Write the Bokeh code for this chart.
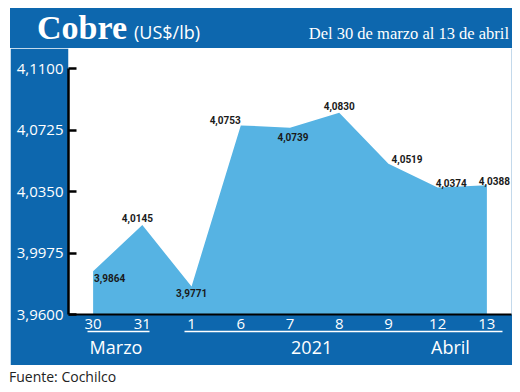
from bokeh.plotting import figure
from bokeh.layouts import column
from bokeh.models import (ColumnDataSource, Range1d, FixedTicker, LinearAxis,
                          CustomJSTickFormatter, Div)
from bokeh.core.properties import value
from bokeh.embed import file_html
from bokeh.resources import INLINE

# ---- data ----
days = ["30", "31", "1", "6", "7", "8", "9", "12", "13"]
prices = [3.9864, 4.0145, 3.9771, 4.0753, 4.0739, 4.0830, 4.0519, 4.0374, 4.0388]
price_labels = ["3,9864", "4,0145", "3,9771", "4,0753", "4,0739", "4,0830", "4,0519", "4,0374", "4,0388"]
y_ticks = [3.9600, 3.9975, 4.0350, 4.0725, 4.1100]
groups = ["Marzo", "2021", "Abril"]
group_pos = [0.465, 4.44, 7.26]          # position of group captions along the day axis
title = "Cobre"
unit = "(US$/lb)"
subtitle = "Del 30 de marzo al 13 de abril"
source_note = "Fuente: Cochilco"

# label placement (style): align, baseline, x offset, y offset
placement = [("left", "top", 1, 3), ("center", "bottom", -5, -3), ("center", "top", 0, 3),
             ("right", "bottom", 0, -1), ("center", "top", 3, 5), ("center", "bottom", 0, -3),
             ("left", "bottom", 3, -1), ("left", "bottom", -2, -1), ("right", "bottom", 23, 0)]

BLUE = "#0D67AE"
AREA = "#56B3E3"

# ---------------- title band (HTML text) ----------------
title_html = (
    '<div style="position:relative;width:512px;height:48px;">'
    '<div style="position:absolute;left:10px;top:8px;width:502px;height:40px;background:' + BLUE + ';"></div>'
    '<span style="position:absolute;left:37px;top:11px;font-family:\'Liberation Serif\';font-weight:bold;'
    'font-size:34px;line-height:34px;color:white;white-space:nowrap;">' + title + '</span>'
    '<span style="position:absolute;left:134px;top:23px;font-family:\'Open Sans\';font-size:18px;'
    'line-height:18px;color:white;white-space:nowrap;">' + unit + '</span>'
    '<span style="position:absolute;right:3px;top:26px;font-family:\'Liberation Serif\';font-size:16.5px;'
    'line-height:16.5px;color:white;white-space:nowrap;">' + subtitle + '</span>'
    '</div>'
)
t = Div(text=title_html, width=512, height=48, margin=(0, 0, 0, 0))

# ---------------- main chart ----------------
idx = list(range(len(days)))
src = ColumnDataSource(dict(
    x=idx, y=prices, lab=price_labels,
    align=[q[0] for q in placement], base=[q[1] for q in placement],
    xo=[q[2] for q in placement], yo=[q[3] for q in placement]))

p = figure(width=502, height=317, x_range=Range1d(-0.5, len(days) - 0.5),
           y_range=Range1d(3.96, 4.1222), output_backend="svg", toolbar_location=None,
           min_border_left=58, min_border_right=1, min_border_top=0, min_border_bottom=51)
p.margin = (0, 0, 0, 10)
p.background_fill_color = "white"
p.border_fill_color = BLUE
p.outline_line_color = None
p.grid.visible = False

p.varea(x="x", y1=3.96, y2="y", source=src, fill_color=AREA, fill_alpha=1)
p.text(x="x", y="y", text="lab", source=src, text_align="align", text_baseline="base",
       x_offset="xo", y_offset="yo", text_font=value("Roboto"),
       text_font_style="bold", text_font_size="10px", text_color="#1a1a1a")

ya = p.yaxis[0]
ya.ticker = FixedTicker(ticks=y_ticks, minor_ticks=[])
ya.bounds = (y_ticks[0], y_ticks[-1])
ya.formatter = CustomJSTickFormatter(code="return tick.toFixed(4).replace('.', ',');")
ya.axis_line_color = "black"
ya.axis_line_width = 2.5
ya.major_tick_in = 8
ya.major_tick_out = 0
ya.major_tick_line_width = 2.5
ya.major_tick_line_color = "black"
ya.minor_tick_line_color = None
ya.major_label_standoff = 5
ya.major_label_text_color = "white"
ya.major_label_text_font = "Open Sans"
ya.major_label_text_font_size = "15px"

xa = p.xaxis[0]
xa.ticker = FixedTicker(ticks=idx, minor_ticks=[])
xa.formatter = CustomJSTickFormatter(args=dict(labels=days),
                                     code="return labels[Math.round(tick)];")
xa.axis_line_color = "black"
xa.axis_line_width = 2
xa.major_tick_line_color = None
xa.minor_tick_line_color = None
xa.major_tick_in = 0
xa.major_tick_out = 0
xa.major_label_standoff = 4
xa.major_label_text_color = "white"
xa.major_label_text_font = "Open Sans"
xa.major_label_text_font_size = "15px"

ga = LinearAxis(ticker=FixedTicker(ticks=group_pos, minor_ticks=[]),
                formatter=CustomJSTickFormatter(args=dict(labels=groups),
                                                code="return labels[index];"),
                bounds=(-0.114, 8.32))
ga.axis_line_color = "white"
ga.axis_line_width = 1.5
ga.axis_line_dash = "62 35 400"
ga.major_tick_line_color = None
ga.minor_tick_line_color = None
ga.major_tick_in = 0
ga.major_tick_out = 0
ga.major_label_standoff = 3
ga.major_label_text_color = "white"
ga.major_label_text_font = "Open Sans"
ga.major_label_text_font_size = "18px"
p.add_layout(ga, "below")

# ---------------- source note (HTML text) ----------------
note_html = (
    '<div style="position:relative;width:512px;height:19px;">'
    '<span style="position:absolute;left:9px;top:5px;font-family:\'Open Sans\';font-size:14px;'
    'line-height:14px;color:#222222;white-space:nowrap;">' + source_note + '</span>'
    '</div>'
)
f = Div(text=note_html, width=512, height=19, margin=(0, 0, 0, 0))

layout = column(t, p, f, spacing=0)
open("out.html", "w").write(file_html(layout, INLINE))
